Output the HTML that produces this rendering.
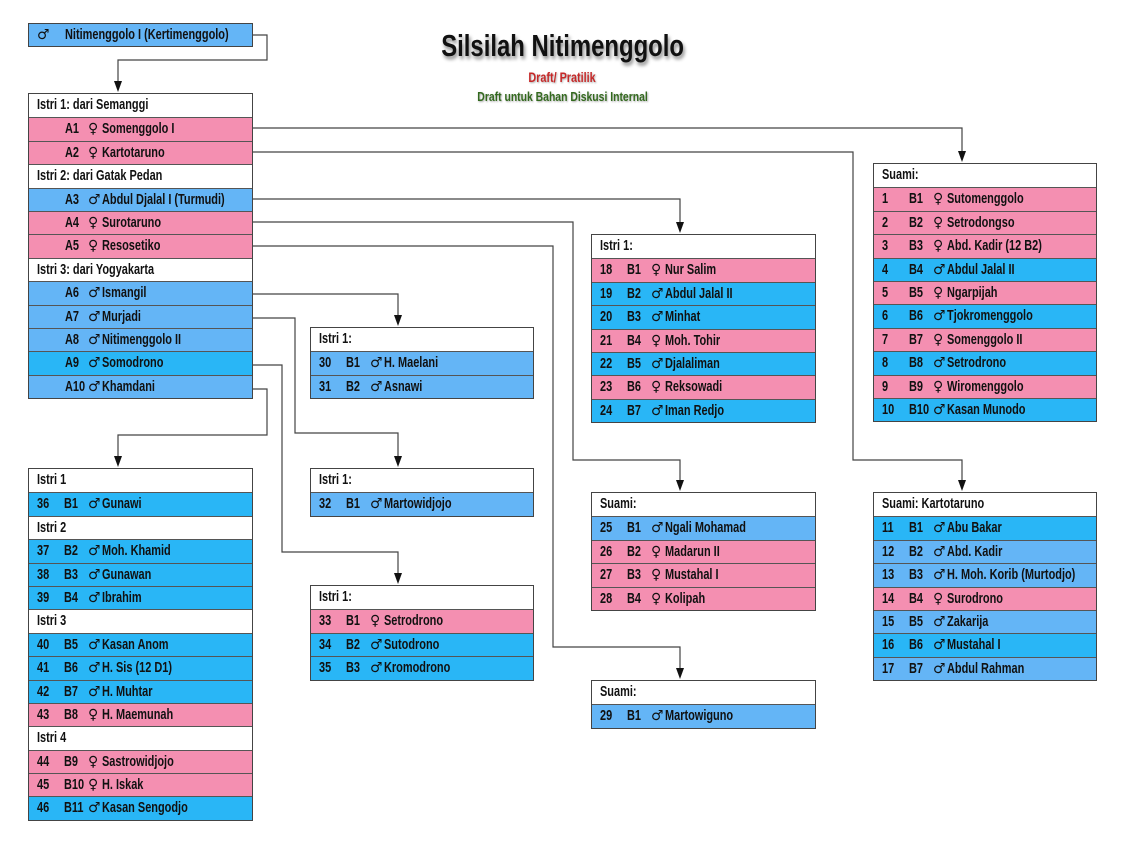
<!DOCTYPE html>
<html><head><meta charset="utf-8"><style>
body{margin:0;width:1125px;height:844px;background:#fff;position:relative;overflow:hidden;font-family:"Liberation Sans",sans-serif;font-size:15px;color:#111}
.t{position:absolute;border:1px solid #444;box-sizing:border-box;background:#fff}
.r{height:23.4px;line-height:22.5px;border-top:1px solid #555;box-sizing:border-box;position:relative;white-space:nowrap}
.r:first-child{border-top:none}
.h{background:#fff}
.p{background:#f48fb1}.l{background:#64b5f6}.c{background:#29b6f6}
.r span{position:absolute;transform:scaleX(.73);transform-origin:left center;top:0;font-weight:bold}
.h span{left:8px}
.n{left:8px}.b{left:35px}.s{left:59px}.m{left:73px}
.r span.s{font-family:"DejaVu Sans",sans-serif;font-size:14px;font-weight:normal;transform:none}
.a .k{left:36px}
svg{position:absolute;left:0;top:0}
.title{position:absolute;left:0;width:1125px;text-align:center}
.title span{display:inline-block;transform:scaleX(.8)}
</style></head><body>
<svg width="1125" height="844">
<g fill="none" stroke="#444" stroke-width="1.2">
<path d="M253,35 H267 V60 H118 V84"/>
<path d="M253,128 H962 V154"/>
<path d="M253,152 H853 V460 H962 V483"/>
<path d="M253,199 H680 V225"/>
<path d="M253,222 H573 V460 H680 V483"/>
<path d="M253,246 H553 V647 H680 V671"/>
<path d="M253,294 H398 V318"/>
<path d="M253,318 H295 V433 H398 V459"/>
<path d="M253,365 H282 V552 H398 V576"/>
<path d="M253,389 H267 V435 H118 V459"/>
</g>
<g fill="#111">
<path d="M114,81 h8 l-4,11z"/><path d="M958,151 h8 l-4,11z"/><path d="M958,480 h8 l-4,11z"/>
<path d="M676,222 h8 l-4,11z"/><path d="M676,480 h8 l-4,11z"/><path d="M676,668 h8 l-4,11z"/>
<path d="M394,315 h8 l-4,11z"/><path d="M394,456 h8 l-4,11z"/><path d="M394,573 h8 l-4,11z"/>
<path d="M114,456 h8 l-4,11z"/>
</g>
</svg>
<div class="title" style="top:28px;font-size:31px;font-weight:bold;text-shadow:2px 3px 4px #888"><span style="transform:scaleX(.77)">Silsilah Nitimenggolo</span></div>
<div class="title" style="top:70px;font-size:13.5px;font-weight:bold;color:#c62828;text-shadow:1px 1px 2px #aaa"><span>Draft/ Pratilik</span></div>
<div class="title" style="top:89px;font-size:13px;font-weight:bold;color:#33691e;text-shadow:1px 1px 2px #aaa"><span>Draft untuk Bahan Diskusi Internal</span></div>

<div class="t" style="left:28px;top:23px;width:225px;height:24px"><div class="r l" style="height:22px"><span class="s" style="left:8px">♂</span><span style="left:36px">Nitimenggolo I (Kertimenggolo)</span></div></div>

<div class="t a" style="left:28px;top:93px;width:225px">
<div class="r h"><span>Istri 1: dari Semanggi</span></div>
<div class="r p"><span class="k">A1</span><span class="s">♀</span><span class="m">Somenggolo I</span></div>
<div class="r p"><span class="k">A2</span><span class="s">♀</span><span class="m">Kartotaruno</span></div>
<div class="r h"><span>Istri 2: dari Gatak Pedan</span></div>
<div class="r l"><span class="k">A3</span><span class="s">♂</span><span class="m">Abdul Djalal I (Turmudi)</span></div>
<div class="r p"><span class="k">A4</span><span class="s">♀</span><span class="m">Surotaruno</span></div>
<div class="r p"><span class="k">A5</span><span class="s">♀</span><span class="m">Resosetiko</span></div>
<div class="r h"><span>Istri 3: dari Yogyakarta</span></div>
<div class="r l"><span class="k">A6</span><span class="s">♂</span><span class="m">Ismangil</span></div>
<div class="r l"><span class="k">A7</span><span class="s">♂</span><span class="m">Murjadi</span></div>
<div class="r l"><span class="k">A8</span><span class="s">♂</span><span class="m">Nitimenggolo II</span></div>
<div class="r c"><span class="k">A9</span><span class="s">♂</span><span class="m">Somodrono</span></div>
<div class="r l"><span class="k">A10</span><span class="s">♂</span><span class="m">Khamdani</span></div>
</div>

<div class="t" style="left:873px;top:163px;width:224px">
<div class="r h"><span>Suami:</span></div>
<div class="r p"><span class="n">1</span><span class="b">B1</span><span class="s">♀</span><span class="m">Sutomenggolo</span></div>
<div class="r p"><span class="n">2</span><span class="b">B2</span><span class="s">♀</span><span class="m">Setrodongso</span></div>
<div class="r p"><span class="n">3</span><span class="b">B3</span><span class="s">♀</span><span class="m">Abd. Kadir (12 B2)</span></div>
<div class="r c"><span class="n">4</span><span class="b">B4</span><span class="s">♂</span><span class="m">Abdul Jalal II</span></div>
<div class="r p"><span class="n">5</span><span class="b">B5</span><span class="s">♀</span><span class="m">Ngarpijah</span></div>
<div class="r c"><span class="n">6</span><span class="b">B6</span><span class="s">♂</span><span class="m">Tjokromenggolo</span></div>
<div class="r p"><span class="n">7</span><span class="b">B7</span><span class="s">♀</span><span class="m">Somenggolo II</span></div>
<div class="r c"><span class="n">8</span><span class="b">B8</span><span class="s">♂</span><span class="m">Setrodrono</span></div>
<div class="r p"><span class="n">9</span><span class="b">B9</span><span class="s">♀</span><span class="m">Wiromenggolo</span></div>
<div class="r c"><span class="n">10</span><span class="b">B10</span><span class="s">♂</span><span class="m">Kasan Munodo</span></div>
</div>

<div class="t" style="left:591px;top:234px;width:225px">
<div class="r h"><span>Istri 1:</span></div>
<div class="r p"><span class="n">18</span><span class="b">B1</span><span class="s">♀</span><span class="m">Nur Salim</span></div>
<div class="r c"><span class="n">19</span><span class="b">B2</span><span class="s">♂</span><span class="m">Abdul Jalal II</span></div>
<div class="r c"><span class="n">20</span><span class="b">B3</span><span class="s">♂</span><span class="m">Minhat</span></div>
<div class="r p"><span class="n">21</span><span class="b">B4</span><span class="s">♀</span><span class="m">Moh. Tohir</span></div>
<div class="r c"><span class="n">22</span><span class="b">B5</span><span class="s">♂</span><span class="m">Djalaliman</span></div>
<div class="r p"><span class="n">23</span><span class="b">B6</span><span class="s">♀</span><span class="m">Reksowadi</span></div>
<div class="r c"><span class="n">24</span><span class="b">B7</span><span class="s">♂</span><span class="m">Iman Redjo</span></div>
</div>

<div class="t" style="left:310px;top:327px;width:224px">
<div class="r h"><span>Istri 1:</span></div>
<div class="r l"><span class="n">30</span><span class="b">B1</span><span class="s">♂</span><span class="m">H. Maelani</span></div>
<div class="r l"><span class="n">31</span><span class="b">B2</span><span class="s">♂</span><span class="m">Asnawi</span></div>
</div>

<div class="t" style="left:310px;top:468px;width:224px">
<div class="r h"><span>Istri 1:</span></div>
<div class="r l"><span class="n">32</span><span class="b">B1</span><span class="s">♂</span><span class="m">Martowidjojo</span></div>
</div>

<div class="t" style="left:310px;top:585px;width:224px">
<div class="r h"><span>Istri 1:</span></div>
<div class="r p"><span class="n">33</span><span class="b">B1</span><span class="s">♀</span><span class="m">Setrodrono</span></div>
<div class="r c"><span class="n">34</span><span class="b">B2</span><span class="s">♂</span><span class="m">Sutodrono</span></div>
<div class="r c"><span class="n">35</span><span class="b">B3</span><span class="s">♂</span><span class="m">Kromodrono</span></div>
</div>

<div class="t" style="left:591px;top:492px;width:225px">
<div class="r h"><span>Suami:</span></div>
<div class="r l"><span class="n">25</span><span class="b">B1</span><span class="s">♂</span><span class="m">Ngali Mohamad</span></div>
<div class="r p"><span class="n">26</span><span class="b">B2</span><span class="s">♀</span><span class="m">Madarun II</span></div>
<div class="r p"><span class="n">27</span><span class="b">B3</span><span class="s">♀</span><span class="m">Mustahal I</span></div>
<div class="r p"><span class="n">28</span><span class="b">B4</span><span class="s">♀</span><span class="m">Kolipah</span></div>
</div>

<div class="t" style="left:591px;top:680px;width:225px">
<div class="r h"><span>Suami:</span></div>
<div class="r l"><span class="n">29</span><span class="b">B1</span><span class="s">♂</span><span class="m">Martowiguno</span></div>
</div>

<div class="t" style="left:873px;top:492px;width:224px">
<div class="r h"><span>Suami: Kartotaruno</span></div>
<div class="r c"><span class="n">11</span><span class="b">B1</span><span class="s">♂</span><span class="m">Abu Bakar</span></div>
<div class="r l"><span class="n">12</span><span class="b">B2</span><span class="s">♂</span><span class="m">Abd. Kadir</span></div>
<div class="r l"><span class="n">13</span><span class="b">B3</span><span class="s">♂</span><span class="m">H. Moh. Korib (Murtodjo)</span></div>
<div class="r p"><span class="n">14</span><span class="b">B4</span><span class="s">♀</span><span class="m">Surodrono</span></div>
<div class="r l"><span class="n">15</span><span class="b">B5</span><span class="s">♂</span><span class="m">Zakarija</span></div>
<div class="r c"><span class="n">16</span><span class="b">B6</span><span class="s">♂</span><span class="m">Mustahal I</span></div>
<div class="r l"><span class="n">17</span><span class="b">B7</span><span class="s">♂</span><span class="m">Abdul Rahman</span></div>
</div>

<div class="t" style="left:28px;top:468px;width:225px">
<div class="r h"><span>Istri 1</span></div>
<div class="r c"><span class="n">36</span><span class="b">B1</span><span class="s">♂</span><span class="m">Gunawi</span></div>
<div class="r h"><span>Istri 2</span></div>
<div class="r c"><span class="n">37</span><span class="b">B2</span><span class="s">♂</span><span class="m">Moh. Khamid</span></div>
<div class="r c"><span class="n">38</span><span class="b">B3</span><span class="s">♂</span><span class="m">Gunawan</span></div>
<div class="r c"><span class="n">39</span><span class="b">B4</span><span class="s">♂</span><span class="m">Ibrahim</span></div>
<div class="r h"><span>Istri 3</span></div>
<div class="r c"><span class="n">40</span><span class="b">B5</span><span class="s">♂</span><span class="m">Kasan Anom</span></div>
<div class="r c"><span class="n">41</span><span class="b">B6</span><span class="s">♂</span><span class="m">H. Sis (12 D1)</span></div>
<div class="r c"><span class="n">42</span><span class="b">B7</span><span class="s">♂</span><span class="m">H. Muhtar</span></div>
<div class="r p"><span class="n">43</span><span class="b">B8</span><span class="s">♀</span><span class="m">H. Maemunah</span></div>
<div class="r h"><span>Istri 4</span></div>
<div class="r p"><span class="n">44</span><span class="b">B9</span><span class="s">♀</span><span class="m">Sastrowidjojo</span></div>
<div class="r p"><span class="n">45</span><span class="b">B10</span><span class="s">♀</span><span class="m">H. Iskak</span></div>
<div class="r c"><span class="n">46</span><span class="b">B11</span><span class="s">♂</span><span class="m">Kasan Sengodjo</span></div>
</div>
</body></html>
